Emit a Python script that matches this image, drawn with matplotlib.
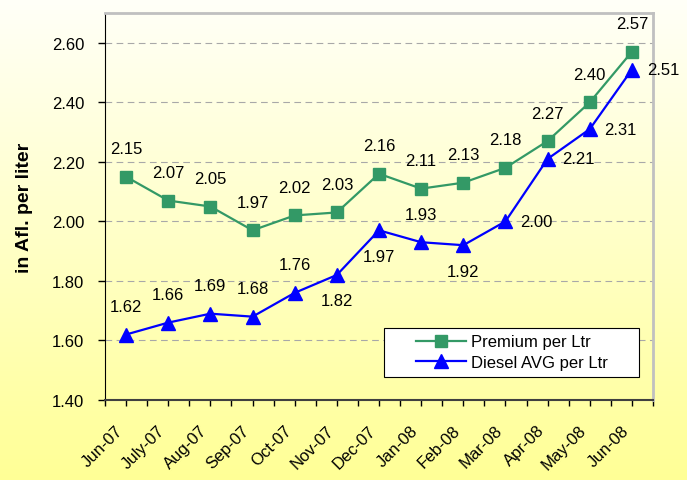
import numpy as np
import matplotlib.pyplot as plt
import matplotlib.transforms as mtransforms
from matplotlib.patches import Rectangle

months = ['Jun-07', 'July-07', 'Aug-07', 'Sep-07', 'Oct-07', 'Nov-07', 'Dec-07',
          'Jan-08', 'Feb-08', 'Mar-08', 'Apr-08', 'May-08', 'Jun-08']
premium = [2.15, 2.07, 2.05, 1.97, 2.02, 2.03, 2.16, 2.11, 2.13, 2.18, 2.27, 2.40, 2.57]
diesel = [1.62, 1.66, 1.69, 1.68, 1.76, 1.82, 1.97, 1.93, 1.92, 2.00, 2.21, 2.31, 2.51]

# where each diesel label sits relative to its point
diesel_pos = ['up', 'up', 'up', 'up', 'up', 'down', 'down', 'up', 'down',
              'right', 'right', 'right', 'right']

plt.rcParams['font.family'] = ['Liberation Sans', 'DejaVu Sans']

fig = plt.figure(figsize=(6.87, 4.81), dpi=100)

# background gradient, white-ish at top to pale yellow at bottom
bg = fig.add_axes([0, 0, 1, 1], zorder=0)
grad = np.linspace(0, 1, 256).reshape(-1, 1)
top = np.array([255, 255, 248]) / 255
bottom = np.array([255, 255, 150]) / 255
img = top + grad[..., None] * (bottom - top)
img = np.repeat(img, 2, axis=1)
bg.imshow(img, aspect='auto', extent=[0, 1, 0, 1])
bg.axis('off')

ax = fig.add_axes([105 / 687, 1 - 401 / 481, (653 - 105) / 687, (401 - 14) / 481], zorder=1)
ax.patch.set_alpha(0)

x = np.arange(len(months))
ax.plot(x, premium, color='#339966', lw=1.6, marker='s', ms=8, label='Premium per Ltr', zorder=3)
ax.plot(x, diesel, color='#0000ff', lw=1.6, marker='^', ms=9.5, label='Diesel AVG per Ltr', zorder=3)

px = 0.72  # pixels -> points
for i, v in enumerate(premium):
    ax.annotate(f'{v:.2f}', (i, v), xytext=(0, 28 * px), textcoords='offset points',
                ha='center', va='center', fontsize=12, zorder=4)
for i, v in enumerate(diesel):
    if diesel_pos[i] == 'up':
        off = (0, 28 * px)
    elif diesel_pos[i] == 'down':
        off = (0, -26 * px)
    else:
        off = (31 * px, 0)
    ax.annotate(f'{v:.2f}', (i, v), xytext=off, textcoords='offset points',
                ha='center', va='center', fontsize=12, zorder=4)

ax.set_xlim(-0.5, len(months) - 0.5)
ax.set_ylim(1.40, 2.70)
yt = np.arange(1.40, 2.61, 0.20)
ax.set_yticks(yt)
ax.set_xticks(x)
ax.set_xticks(np.arange(-0.5, len(months), 1.0), minor=True)
ax.tick_params(axis='x', which='both', length=4, width=1, direction='out', pad=12)
ax.tick_params(axis='y', length=5, width=1, direction='out', pad=10)
ax.set_yticklabels([f'{t:.2f}' for t in yt], fontsize=12)
ax.set_xticklabels(months, rotation=45, ha='right', rotation_mode='anchor', fontsize=12)

shift = mtransforms.ScaledTranslation(-8 / 72, 0, fig.dpi_scale_trans)
for lab in ax.get_xticklabels():
    lab.set_transform(lab.get_transform() + shift)

ax.grid(axis='y', color='#a8a8a8', ls=(0, (6, 4)), lw=0.8, zorder=1)

ax.spines['left'].set_color('black')
ax.spines['bottom'].set_color('#404040')
ax.spines['bottom'].set_linewidth(1.5)
ax.spines['top'].set_color('#c0c0c0')
ax.spines['right'].set_color('#c0c0c0')
ax.spines['top'].set_linewidth(2)
ax.spines['right'].set_linewidth(2)

ax.set_ylabel('in Afl. per liter', fontsize=14, fontweight='bold', va='center')
ax.yaxis.set_label_coords(-0.146, 0.5)

# legend box drawn by hand so it gets the wide side padding of the original
ax.add_patch(Rectangle((0.509, 0.059), 0.465, 0.127, transform=ax.transAxes,
                       facecolor='white', edgecolor='black', lw=0.8, zorder=5))
leg = ax.legend(loc='center', bbox_to_anchor=(0.742, 0.123), fontsize=12, frameon=False,
                handlelength=3, handletextpad=0.3, labelspacing=0.35, borderpad=0)
leg.set_zorder(6)

fig.savefig('out.png', dpi=100)
